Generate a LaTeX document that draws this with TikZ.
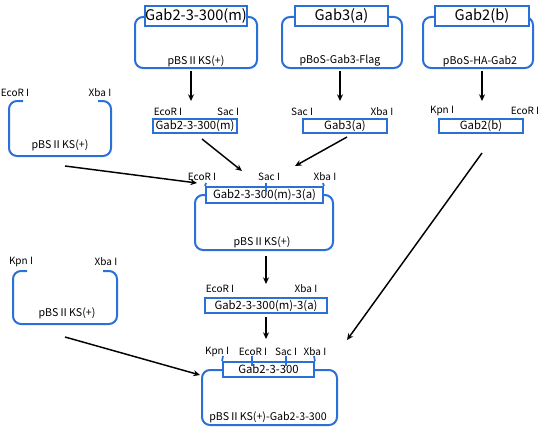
\documentclass[tikz,border=0pt]{standalone}
\usepackage{fontspec}
\setmainfont{Noto Sans CJK JP}
\usetikzlibrary{arrows.meta,positioning}
\definecolor{gblue}{RGB}{41,112,217}

\begin{document}
\begin{tikzpicture}[x=0.75pt,y=0.75pt,yscale=-1,xscale=1,
  plasmid/.style={draw=gblue, line width=1.5pt, rounded corners=6pt, inner sep=0pt},
  insert/.style={draw=gblue, fill=white, line width=1.4pt, inner sep=0pt, font=\fontsize{8.5}{9}\selectfont},
  topinsert/.style={insert, font=\fontsize{11}{12}\selectfont},
  site/.style={inner sep=0pt, font=\fontsize{7.5}{8}\selectfont},
  pname/.style={inner sep=0pt, font=\fontsize{8}{9}\selectfont},
  arr/.style={-{Stealth[length=5pt,width=4.5pt]}, line width=1.1pt},
  tick/.style={draw=gblue, line width=1.3pt}]
\path (0,0) rectangle (541,428);

%Shape: Rounded Rectangle [top row]
\node[plasmid, minimum width=91.5pt, minimum height=38.25pt] (p1) at (196,42.5) {};
\node[topinsert, minimum width=76.5pt, minimum height=15pt] (g1) at (196,16) {Gab2-3-300(m)};
\node[pname] (p1n) at (196,61) {pBSⅡKS(+)};
\node[plasmid, minimum width=90pt, minimum height=38.25pt] (p2) at (342,42.5) {};
\node[topinsert, minimum width=70pt, minimum height=15pt] (g2) at (341.5,16) {Gab3(a)};
\node[pname] (p2n) at (340,61) {pBoS-Gab3-Flag};
\node[plasmid, minimum width=82.5pt, minimum height=38.25pt] (p3) at (478,42.5) {};
\node[topinsert, minimum width=70.5pt, minimum height=15pt] (g3) at (482,16) {Gab2(b)};
\node[pname] (p3n) at (480,61) {pBoS-HA-Gab2};

%Shape: Insert fragments [second row]
\node[insert, minimum width=63pt, minimum height=10.5pt] (f1) at (195,126) {Gab2-3-300(m)};
\node[insert, minimum width=63pt, minimum height=10.5pt] (f2) at (345,126) {Gab3(a)};
\node[insert, minimum width=63pt, minimum height=10.5pt] (f3) at (481,126) {Gab2(b)};
% Text Node
\node[site] (f1a) at (168,112) {EcoR I};
\node[site] (f1b) at (228,112) {Sac I};
\node[site] (f2a) at (302,112) {Sac I};
\node[site] (f2b) at (382,112) {Xba I};
\node[site] (f3a) at (442,111) {Kpn I};
\node[site] (f3b) at (525,111) {EcoR I};

%Shape: Open vector [left, upper]
\draw[plasmid] (23,101) -- (9,101) -- (9,156) -- (111,156) -- (111,101) -- (98,101);
\node[site] (l1a) at (15,93) {EcoR I};
\node[site] (l1b) at (100,93) {Xba I};
\node[pname] (l1n) at (60,145) {pBSⅡKS(+)};

%Shape: Middle vector
\node[plasmid, minimum width=103.5pt, minimum height=41.25pt] (m) at (264,222.5) {};
\node[insert, minimum width=87.75pt, minimum height=12pt] (mi) at (264.5,195) {Gab2-3-300(m)-3(a)};
\draw[tick] (mi.north west) -- (206,183);
\draw[tick] (mi.north east) -- (323,183);
\draw[tick] (266,183) -- (266,192);
\node[site] (ma) at (202,177) {EcoR I};
\node[site] (mb) at (269,177) {Sac I};
\node[site] (mc) at (325,177) {Xba I};
\node[pname] (mn) at (262,242) {pBSⅡKS(+)};

%Shape: Excised fragment
\node[insert, minimum width=91.5pt, minimum height=11.25pt] (f4) at (266,305.5) {Gab2-3-300(m)-3(a)};
\node[site] (f4a) at (220,289) {EcoR I};
\node[site] (f4b) at (306,289) {Xba I};

%Shape: Open vector [left, lower]
\draw[plasmid] (27,271) -- (13,271) -- (13,324) -- (117,324) -- (117,271) -- (103,271);
\node[site] (l2a) at (21,262) {Kpn I};
\node[site] (l2b) at (106,262) {Xba I};
\node[pname] (l2n) at (67,313) {pBSⅡKS(+)};

%Shape: Final vector
\node[plasmid, minimum width=101.25pt, minimum height=41.25pt] (b) at (269.5,397.5) {};
\node[insert, minimum width=68.25pt, minimum height=11.25pt] (bi) at (268.5,369.5) {Gab2-3-300};
\draw[tick] (bi.north west) -- (223,356);
\draw[tick] (bi.north east) -- (314,356);
\draw[tick] (252,356) -- (252,366);
\draw[tick] (286,356) -- (286,366);
\node[site] (ba) at (217,352) {Kpn I};
\node[site] (bb) at (253,352) {EcoR I};
\node[site] (bc) at (286,352) {Sac I};
\node[site] (bd) at (315,352) {Xba I};
\node[pname] (bn) at (268,417) {pBSⅡKS(+)-Gab2-3-300};

%Straight Lines [arrow ends]
\coordinate (p1o) at (191,71);  \coordinate (f1i) at (191,101);
\coordinate (p2o) at (340,71);  \coordinate (f2i) at (340,101);
\coordinate (p3o) at (482,71);  \coordinate (f3i) at (482,101);
\coordinate (l1o) at (65,166);  \coordinate (mi1) at (197,183);
\coordinate (f1o) at (202,139); \coordinate (mi2) at (242,171);
\coordinate (f2o) at (347,137); \coordinate (mi3) at (295,166);
\coordinate (mo) at (266,256);  \coordinate (f4i) at (266,284);
\coordinate (f4o) at (266,317); \coordinate (bi1) at (266,339);
\coordinate (l2o) at (65,337);  \coordinate (bi2) at (200,375);
\coordinate (f3o) at (482,153); \coordinate (bi3) at (347,340);
\draw[arr] (p1o) -- (f1i);
\draw[arr] (p2o) -- (f2i);
\draw[arr] (p3o) -- (f3i);
\draw[arr] (l1o) -- (mi1);
\draw[arr] (f1o) -- (mi2);
\draw[arr] (f2o) -- (mi3);
\draw[arr] (mo) -- (f4i);
\draw[arr] (f4o) -- (bi1);
\draw[arr] (l2o) -- (bi2);
\draw[arr] (f3o) -- (bi3);
\end{tikzpicture}
\end{document}
